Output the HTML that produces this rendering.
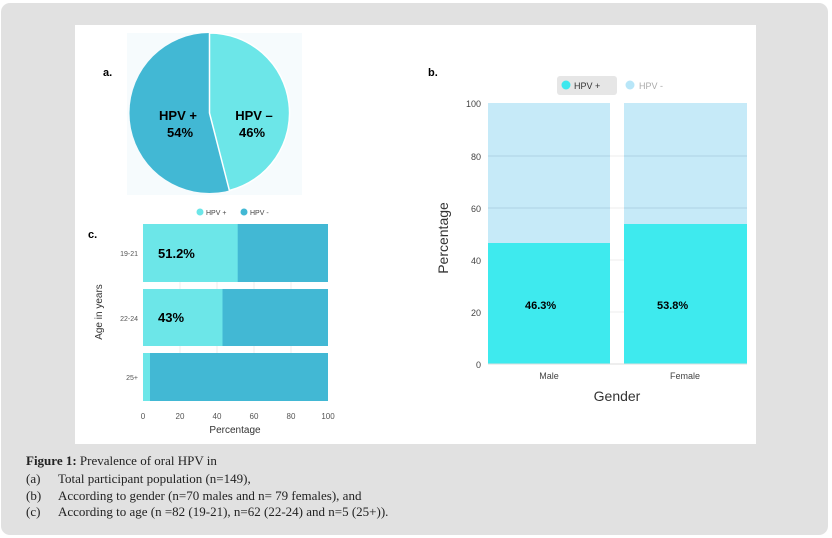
<!DOCTYPE html>
<html><head><meta charset="utf-8"><style>
body{margin:0;width:832px;height:538px;background:#fff;position:relative;overflow:hidden;font-family:"Liberation Sans",sans-serif}
.g{position:absolute;left:1px;top:3px;width:827px;height:532px;background:#e1e1e1;border-radius:9px}
.w{position:absolute;left:75px;top:25px;width:681px;height:419px;background:#fff}
.cap{position:absolute;left:26px;font-family:"Liberation Serif",serif;font-size:13px;color:#222;line-height:16px}
.cap span{position:absolute;left:32px;white-space:nowrap}
</style></head><body>
<div class="g"></div><div class="w"></div>
<svg style="position:absolute;left:0;top:0" width="832" height="538" font-family="Liberation Sans, sans-serif">
<rect x="127" y="33" width="175" height="162" fill="#f6fbfd"/>
<circle cx="209.5" cy="113" r="80" fill="#42b8d4"/>
<path d="M209.5 113 L209.5 33 A80 80 0 0 1 229.4 190.5 Z" fill="#6ce6e8" stroke="#fff" stroke-width="1.5"/>
<text x="103" y="76" font-size="11" font-weight="bold">a.</text>
<text x="178" y="120" font-size="13" font-weight="bold" text-anchor="middle">HPV +</text>
<text x="180" y="137" font-size="13" font-weight="bold" text-anchor="middle">54%</text>
<text x="254" y="120" font-size="13" font-weight="bold" text-anchor="middle">HPV –</text>
<text x="252" y="137" font-size="13" font-weight="bold" text-anchor="middle">46%</text>
<!-- c -->
<circle cx="200" cy="212" r="3.5" fill="#6ce6e8"/><text x="206" y="215" font-size="7" fill="#444">HPV +</text>
<circle cx="244" cy="212" r="3.5" fill="#42b8d4"/><text x="250" y="215" font-size="7" fill="#444">HPV -</text>
<text x="88" y="238" font-size="11" font-weight="bold">c.</text>
<g stroke="#eee"><line x1="180" y1="224" x2="180" y2="401"/><line x1="217" y1="224" x2="217" y2="401"/><line x1="254" y1="224" x2="254" y2="401"/><line x1="291" y1="224" x2="291" y2="401"/></g>
<rect x="143" y="224" width="185" height="58" fill="#42b8d4"/><rect x="143" y="224" width="94.7" height="58" fill="#6ce6e8"/>
<rect x="143" y="289" width="185" height="57" fill="#42b8d4"/><rect x="143" y="289" width="79.5" height="57" fill="#6ce6e8"/>
<rect x="143" y="353" width="185" height="48" fill="#42b8d4"/><rect x="143" y="353" width="7" height="48" fill="#6ce6e8"/>
<text x="158" y="258" font-size="13" font-weight="bold">51.2%</text>
<text x="158" y="322" font-size="13" font-weight="bold">43%</text>
<g font-size="7" fill="#555" text-anchor="end"><text x="138" y="256">19-21</text><text x="138" y="321">22-24</text><text x="138" y="380">25+</text></g>
<g font-size="8" fill="#555" text-anchor="middle"><text x="143" y="419">0</text><text x="180" y="419">20</text><text x="217" y="419">40</text><text x="254" y="419">60</text><text x="291" y="419">80</text><text x="328" y="419">100</text></g>
<text x="235" y="433" font-size="10" fill="#333" text-anchor="middle">Percentage</text>
<text transform="translate(102,312) rotate(-90)" font-size="10" fill="#333" text-anchor="middle">Age in years</text>
<!-- b -->
<text x="428" y="76" font-size="11" font-weight="bold">b.</text>
<rect x="557" y="76" width="60" height="19" rx="3" fill="#e6e6e6"/>
<circle cx="566" cy="85" r="4.5" fill="#3de8ee"/><text x="574" y="89" font-size="9" fill="#333">HPV +</text>
<circle cx="630" cy="85" r="4.5" fill="#b8e6f8"/><text x="639" y="89" font-size="9" fill="#aaa">HPV -</text>
<rect x="488" y="103" width="122" height="261" fill="#c6eaf8"/>
<rect x="624" y="103" width="123" height="261" fill="#c6eaf8"/>
<g stroke="#aed3e4"><line x1="488" y1="156" x2="747" y2="156"/><line x1="488" y1="208" x2="747" y2="208"/></g>
<g stroke="#eee"><line x1="610" y1="260" x2="624" y2="260"/><line x1="610" y1="312" x2="624" y2="312"/><line x1="610" y1="156" x2="624" y2="156"/><line x1="610" y1="208" x2="624" y2="208"/></g>
<rect x="488" y="243" width="122" height="121" fill="#3eeaee"/>
<rect x="624" y="224" width="123" height="140" fill="#3eeaee"/>
<line x1="488" y1="364" x2="747" y2="364" stroke="#ddd"/>
<text x="525" y="309" font-size="11" font-weight="bold">46.3%</text>
<text x="657" y="309" font-size="11" font-weight="bold">53.8%</text>
<g font-size="9" fill="#444" text-anchor="end"><text x="481" y="107">100</text><text x="481" y="160">80</text><text x="481" y="212">60</text><text x="481" y="264">40</text><text x="481" y="316">20</text><text x="481" y="368">0</text></g>
<text x="549" y="379" font-size="9" fill="#444" text-anchor="middle">Male</text>
<text x="685" y="379" font-size="9" fill="#444" text-anchor="middle">Female</text>
<text x="617" y="401" font-size="14" fill="#333" text-anchor="middle">Gender</text>
<text transform="translate(448,238) rotate(-90)" font-size="14" fill="#333" text-anchor="middle">Percentage</text>
</svg>
<div class="cap" style="top:453px"><b>Figure 1:</b> Prevalence of oral HPV in</div>
<div class="cap" style="top:471px">(a)<span>Total participant population (n=149),</span></div>
<div class="cap" style="top:488px">(b)<span>According to gender (n=70 males and n= 79 females), and</span></div>
<div class="cap" style="top:504px">(c)<span>According to age (n =82 (19-21), n=62 (22-24) and n=5 (25+)).</span></div>
</body></html>
